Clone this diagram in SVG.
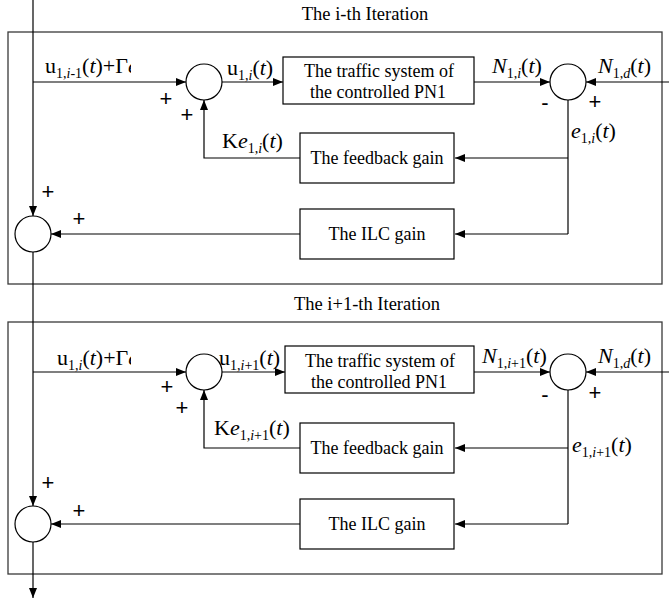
<svg xmlns="http://www.w3.org/2000/svg" width="669" height="602" viewBox="0 0 669 602">
  <defs>
    <marker id="arrow" markerUnits="userSpaceOnUse" markerWidth="11" markerHeight="8" refX="10" refY="4" orient="auto">
      <path d="M0,0 L10,4 L0,8 z" fill="#000"/>
    </marker>
    <clipPath id="cut1"><rect x="0" y="40" width="131" height="50"/></clipPath>
    <clipPath id="cut2"><rect x="0" y="40" width="131" height="50"/></clipPath>
  </defs>
  <style>
    text { font-family: "Liberation Serif", "Times New Roman", serif; fill: #000; }
    .title { font-size: 18.5px; text-anchor: middle; }
    .body { font-size: 18px; text-anchor: middle; }
    .m { font-size: 22px; }
    .s { font-size: 14px; }
    .it { font-style: italic; }
    .sign { font-family: "Liberation Sans", Arial, sans-serif; font-size: 22px; text-anchor: middle; }
    .frame { fill: none; stroke: #3a3a3a; stroke-width: 1.3; }
    .box { fill: #fff; stroke: #000; stroke-width: 1.2; }
    .sum { fill: #fff; stroke: #000; stroke-width: 1.2; }
    .wire { fill: none; stroke: #000; stroke-width: 1.2; }
    .arr { marker-end: url(#arrow); }
  </style>

  <rect width="669" height="602" fill="#fff"/>

  <!-- ===== i-th iteration ===== -->
  <g id="iter-i">
    <text class="title" x="365" y="20">The i-th Iteration</text>
    <rect class="frame" x="8" y="32" width="654" height="252"/>

    <g id="i-connectors">
      <line class="wire arr" x1="33" y1="82" x2="186" y2="82"/>
      <line class="wire arr" x1="222" y1="82" x2="283" y2="82"/>
      <line class="wire arr" x1="474" y1="82" x2="550" y2="82"/>
      <line class="wire arr" x1="669" y1="82" x2="586" y2="82"/>
      <polyline class="wire" points="568,100 568,234"/>
      <line class="wire arr" x1="568" y1="158" x2="455" y2="158"/>
      <line class="wire arr" x1="568" y1="234" x2="455" y2="234"/>
      <polyline class="wire arr" points="300,158 204,158 204,100"/>
      <line class="wire arr" x1="300" y1="234" x2="51" y2="234"/>
    </g>

    <g id="i-sum-input"><circle class="sum" cx="204" cy="82" r="18"/></g>
    <g id="i-plant">
      <rect class="box" x="283" y="57" width="191" height="47"/>
      <text class="body" x="379" y="77">The traffic system of</text>
      <text class="body" x="378" y="98">the controlled PN1</text>
    </g>
    <g id="i-sum-error"><circle class="sum" cx="568" cy="82" r="18"/></g>
    <g id="i-feedback">
      <rect class="box" x="300" y="133" width="154" height="50"/>
      <text class="body" x="377" y="164">The feedback gain</text>
    </g>
    <g id="i-ilc">
      <rect class="box" x="300" y="209" width="154" height="50"/>
      <text class="body" x="377" y="240">The ILC gain</text>
    </g>
    <g id="i-sum-update"><circle class="sum" cx="33" cy="234" r="18"/></g>

    <g id="i-labels">
      <text class="m" x="45" y="73" clip-path="url(#cut1)">u<tspan class="s" dy="5">1,</tspan><tspan class="s it">i</tspan><tspan class="s">-1</tspan><tspan dy="-5">(</tspan><tspan class="it">t</tspan>)+Γ<tspan class="it">ė</tspan></text>
      <text class="m" x="227" y="75">u<tspan class="s" dy="5">1,</tspan><tspan class="s it">i</tspan><tspan dy="-5">(</tspan><tspan class="it">t</tspan>)</text>
      <text class="m" x="492" y="73"><tspan class="it">N</tspan><tspan class="s" dy="5">1,</tspan><tspan class="s it">i</tspan><tspan dy="-5">(</tspan><tspan class="it">t</tspan>)</text>
      <text class="m" x="598" y="73"><tspan class="it">N</tspan><tspan class="s" dy="5">1,</tspan><tspan class="s it">d</tspan><tspan dy="-5">(</tspan><tspan class="it">t</tspan>)</text>
      <text class="m" x="571" y="138"><tspan class="it">e</tspan><tspan class="s" dy="5">1,</tspan><tspan class="s it">i</tspan><tspan dy="-5">(</tspan><tspan class="it">t</tspan>)</text>
      <text class="m" x="222" y="148">K<tspan class="it">e</tspan><tspan class="s" dy="5">1,</tspan><tspan class="s it">i</tspan><tspan dy="-5">(</tspan><tspan class="it">t</tspan>)</text>
      <text class="sign" x="166" y="106">+</text>
      <text class="sign" x="187" y="122">+</text>
      <text class="sign" x="545" y="110">-</text>
      <text class="sign" x="595" y="109">+</text>
      <text class="sign" x="48" y="199">+</text>
      <text class="sign" x="79" y="226">+</text>
    </g>
  </g>

  <!-- ===== (i+1)-th iteration ===== -->
  <g id="iter-i1" transform="translate(0,290)">
    <text class="title" x="367" y="20">The i+1-th Iteration</text>
    <rect class="frame" x="8" y="32" width="654" height="252"/>

    <g id="i1-connectors">
      <line class="wire arr" x1="33" y1="82" x2="186" y2="82"/>
      <line class="wire arr" x1="222" y1="82" x2="285" y2="82"/>
      <line class="wire arr" x1="474" y1="82" x2="550" y2="82"/>
      <line class="wire arr" x1="669" y1="82" x2="586" y2="82"/>
      <polyline class="wire" points="568,100 568,234"/>
      <line class="wire arr" x1="568" y1="158" x2="455" y2="158"/>
      <line class="wire arr" x1="568" y1="234" x2="455" y2="234"/>
      <polyline class="wire arr" points="300,158 204,158 204,100"/>
      <line class="wire arr" x1="300" y1="234" x2="51" y2="234"/>
    </g>

    <g id="i1-sum-input"><circle class="sum" cx="204" cy="82" r="18"/></g>
    <g id="i1-plant">
      <rect class="box" x="285" y="56" width="189" height="47"/>
      <text class="body" x="380" y="77">The traffic system of</text>
      <text class="body" x="379" y="98">the controlled PN1</text>
    </g>
    <g id="i1-sum-error"><circle class="sum" cx="568" cy="82" r="18"/></g>
    <g id="i1-feedback">
      <rect class="box" x="300" y="133" width="154" height="50"/>
      <text class="body" x="377" y="164">The feedback gain</text>
    </g>
    <g id="i1-ilc">
      <rect class="box" x="300" y="209" width="154" height="50"/>
      <text class="body" x="377" y="240">The ILC gain</text>
    </g>
    <g id="i1-sum-update"><circle class="sum" cx="33" cy="234" r="18"/></g>

    <g id="i1-labels">
      <text class="m" x="57" y="75" clip-path="url(#cut2)">u<tspan class="s" dy="5">1,</tspan><tspan class="s it">i</tspan><tspan dy="-5">(</tspan><tspan class="it">t</tspan>)+Γ<tspan class="it">ė</tspan></text>
      <text class="m" x="219" y="75">u<tspan class="s" dy="5">1,</tspan><tspan class="s it">i</tspan><tspan class="s">+1</tspan><tspan dy="-5">(</tspan><tspan class="it">t</tspan>)</text>
      <text class="m" x="482" y="73"><tspan class="it">N</tspan><tspan class="s" dy="5">1,</tspan><tspan class="s it">i</tspan><tspan class="s">+1</tspan><tspan dy="-5">(</tspan><tspan class="it">t</tspan>)</text>
      <text class="m" x="598" y="73"><tspan class="it">N</tspan><tspan class="s" dy="5">1,</tspan><tspan class="s it">d</tspan><tspan dy="-5">(</tspan><tspan class="it">t</tspan>)</text>
      <text class="m" x="572" y="162"><tspan class="it">e</tspan><tspan class="s" dy="5">1,</tspan><tspan class="s it">i</tspan><tspan class="s">+1</tspan><tspan dy="-5">(</tspan><tspan class="it">t</tspan>)</text>
      <text class="m" x="214" y="145">K<tspan class="it">e</tspan><tspan class="s" dy="5">1,</tspan><tspan class="s it">i</tspan><tspan class="s">+1</tspan><tspan dy="-5">(</tspan><tspan class="it">t</tspan>)</text>
      <text class="sign" x="167" y="104">+</text>
      <text class="sign" x="182" y="125">+</text>
      <text class="sign" x="545" y="112">-</text>
      <text class="sign" x="595" y="110">+</text>
      <text class="sign" x="48" y="200">+</text>
      <text class="sign" x="79" y="228">+</text>
    </g>
  </g>

  <!-- main signal path running down through both iterations -->
  <g id="through-path">
    <line class="wire arr" x1="33" y1="0" x2="33" y2="216"/>
    <line class="wire arr" x1="33" y1="252" x2="33" y2="506"/>
    <line class="wire arr" x1="33" y1="542" x2="33" y2="598"/>
  </g>
</svg>
